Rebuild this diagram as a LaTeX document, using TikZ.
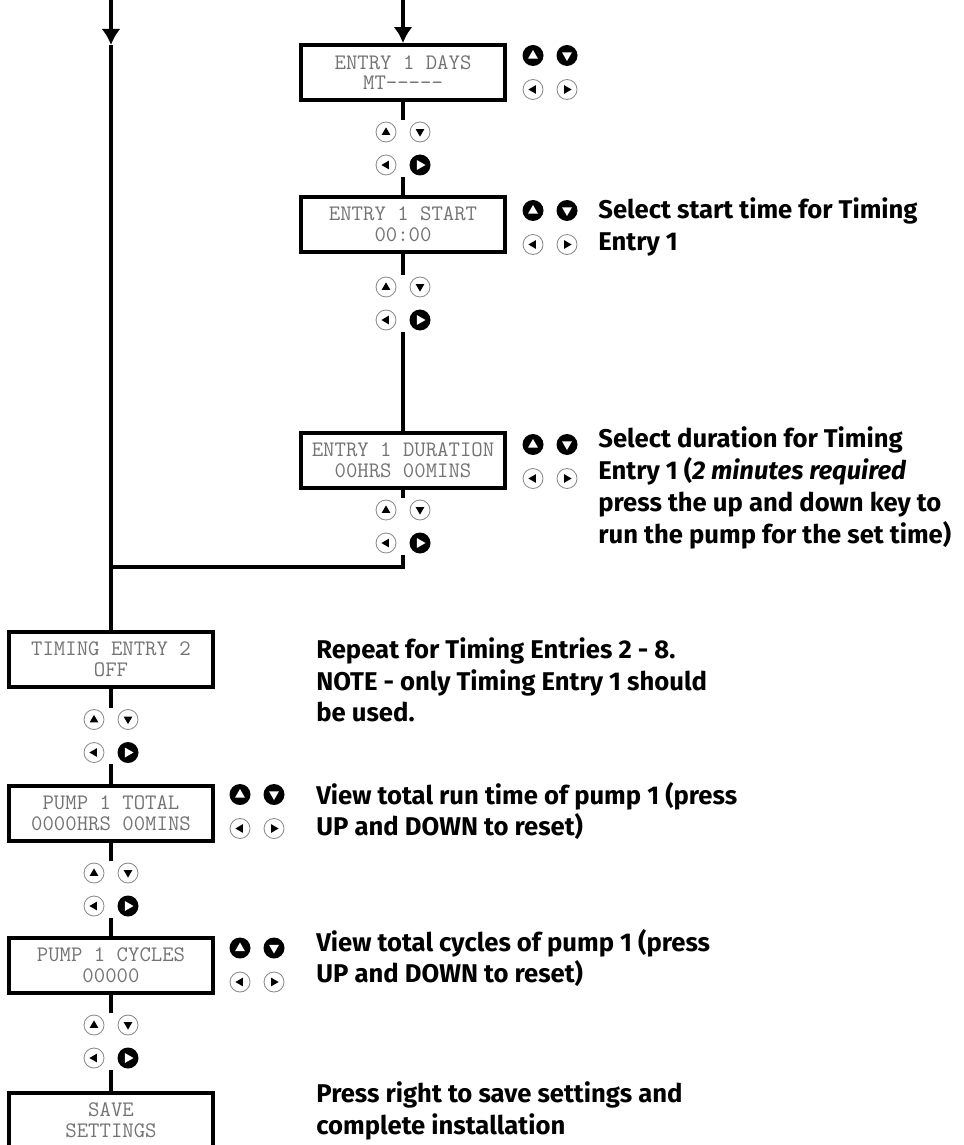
\documentclass[tikz,border=0pt]{standalone}
\usepackage{fontspec}
\newfontfamily\notefont{Fira Sans}
\usetikzlibrary{arrows.meta}
% key pad between two screens: up/down, then left/right
\newcommand\padkeys[3]{%
  \node[pad] (#1) at (#2,#3) {};
  \pic[rotate=90] at (#2-17,#3-16.5) {keyoff};
  \pic[rotate=-90] at (#2+17,#3-16.5) {keyoff};
  \pic[rotate=180] at (#2-17,#3+16.5) {keyoff};
  \pic at (#2+17,#3+16.5) {keyon};}
% keys beside a screen
\newcommand\sidekeys[2]{%
  \pic[rotate=90] at (#1,#2-17) {keyon};
  \pic[rotate=-90] at (#1+34,#2-17) {keyon};
  \pic[rotate=180] at (#1,#2+17) {keyoff};
  \pic at (#1+34,#2+17) {keyoff};}
\begin{document}
\begin{tikzpicture}[x=0.02cm, y=-0.02cm, line cap=butt, >={Latex[length=0.32cm,width=0.38cm]}]
	\tikzset{lcd/.style={draw, line width=2.2pt, minimum width=4.08cm, minimum height=1.1cm, inner sep=0pt, align=center, text=black!55, font=\ttfamily\fontsize{12.6}{11.8}\selectfont},
		pad/.style={minimum width=1.2cm, minimum height=1.12cm, inner sep=0pt},
		link/.style={line width=2.2pt},
		note/.style={anchor=west, align=left, inner sep=0pt, font=\notefont\bfseries\fontsize{14.6}{18.1}\selectfont},
		keyon/.pic={\fill (0,0) circle (10.5); \fill[white] (5.5,0)--(-3.2,5)--(-3.2,-5)--cycle;},
		keyoff/.pic={\draw[black!45, fill=white, line width=0.5pt] (0,0) circle (10); \fill (4.6,0)--(-2.8,4.3)--(-2.8,-4.3)--cycle;}}
	\useasboundingbox (0,0) rectangle (963,1145);
	% screens
	\node[lcd] (days) at (403,72.5) {ENTRY 1 DAYS\\MT-----};
	\node[lcd] (start) at (403,224.5) {ENTRY 1 START\\00:00};
	\node[lcd] (duration) at (403,460.5) {ENTRY 1 DURATION\\00HRS 00MINS};
	\node[lcd] (entry2) at (111,659.5) {TIMING ENTRY 2\\OFF};
	\node[lcd] (total) at (111,813.5) {PUMP 1 TOTAL\\0000HRS 00MINS};
	\node[lcd] (cycles) at (111,965.5) {PUMP 1 CYCLES\\00000};
	\node[lcd] (save) at (111,1120.5) {SAVE\\SETTINGS};
	% keys
	\padkeys{p1}{403}{148.5}
	\padkeys{p2}{403}{303.5}
	\padkeys{p3}{403}{526.5}
	\padkeys{p4}{111}{736}
	\padkeys{p5}{111}{889.5}
	\padkeys{p6}{111}{1041.5}
	\sidekeys{533}{72.5}
	\sidekeys{533}{227.5}
	\sidekeys{533}{461.5}
	\sidekeys{240}{811.5}
	\sidekeys{240}{965}
	% flow lines
	\coordinate (inA) at (111,0);
	\coordinate (tipA) at (111,45);
	\coordinate (inB) at (403,0);
	\coordinate (join) at (111,567);
	\draw[link, ->] (inA)--(tipA);
	\draw[link] (tipA)--(entry2.north);
	\draw[link, ->] (inB)--(days.north);
	\draw[link] (days.south)--(p1.north) (p1.south)--(start.north)
		(start.south)--(p2.north) (p2.south)--(duration.north)
		(duration.south)--(p3.north);
	\draw[link] (p3.south) |- (join);
	\draw[link] (entry2.south)--(p4.north) (p4.south)--(total.north)
		(total.south)--(p5.north) (p5.south)--(cycles.north)
		(cycles.south)--(p6.north) (p6.south)--(save.north);
	% notes
	\node[note] (n1) at (598,227) {Select start time for Timing\\Entry 1};
	\node[note] (n2) at (598,488) {Select duration for Timing\\Entry 1 (\textit{2 minutes required}\\press the up and down key to\\run the pump for the set time)};
	\node[note] (n3) at (316,680) {Repeat for Timing Entries 2 - 8.\\NOTE - only Timing Entry 1 should\\be used.};
	\node[note] (n4) at (316,811) {View total run time of pump 1 (press\\UP and DOWN to reset)};
	\node[note] (n5) at (316,958) {View total cycles of pump 1 (press\\UP and DOWN to reset)};
	\node[note] (n6) at (316,1111) {Press right to save settings and\\complete installation};
\end{tikzpicture}
\end{document}
